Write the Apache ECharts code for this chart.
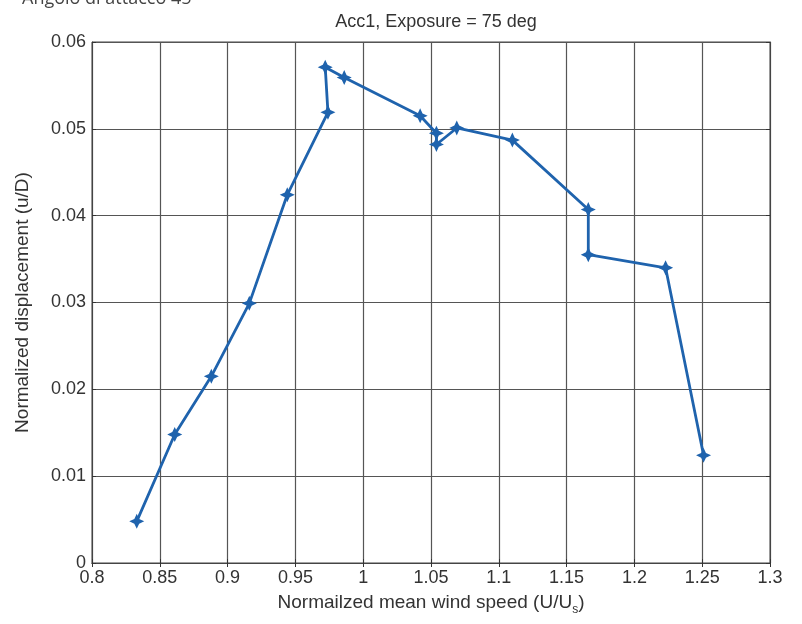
<!DOCTYPE html>
<html><head><meta charset="utf-8">
<script src="https://cdn.jsdelivr.net/npm/echarts@6/dist/echarts.min.js"></script>
<style>html,body{margin:0;padding:0;background:#fff}#c{width:802px;height:624px}</style>
</head><body><div id="c"></div>
<script>
const speed = [0.833, 0.861, 0.888, 0.916, 0.944, 0.974, 0.972, 0.986, 1.042, 1.054, 1.054, 1.069, 1.110, 1.166, 1.166, 1.223, 1.251];
const disp  = [0.0048, 0.0148, 0.0215, 0.0299, 0.0424, 0.0519, 0.0571, 0.0559, 0.0515, 0.0495, 0.0482, 0.0501, 0.0487, 0.0407, 0.0355, 0.0340, 0.0124];
const xTicks = [0.8, 0.85, 0.9, 0.95, 1, 1.05, 1.1, 1.15, 1.2, 1.25, 1.3];
const yTicks = [0, 0.01, 0.02, 0.03, 0.04, 0.05, 0.06];
const titleText = 'Acc1, Exposure = 75 deg';
const topNote = 'Angolo di attacco 45';
const xName = 'Normailzed mean wind speed (U/U{s|s})';
const yName = 'Normalized displacement (u/D)';

const chart = echarts.init(document.getElementById('c'), null, {renderer: 'canvas'});
const font = 'Liberation Sans, Arial, sans-serif';
const star = 'path://M0,-10 L3.2,-3.2 L10,0 L3.2,3.2 L0,10 L-3.2,3.2 L-10,0 L-3.2,-3.2 Z';
const fmt = v => { const r = Math.round(v*100)/100; return String(r); };
chart.setOption({
  animation: false,
  backgroundColor: '#fff',
  title: [{
    text: titleText, left: 431, top: 8, textAlign: 'center',
    textStyle: {fontFamily: font, fontSize: 18, fontWeight: 'normal', color: '#333'}
  }],
  graphic: [{
    type: 'text', left: 22, top: -10,
    style: {text: topNote, font: '18px "Open Sans", sans-serif', fill: '#444'}
  }],
  grid: {left: 92, right: 32, top: 42, bottom: 61, show: true, borderColor: '#444', borderWidth: 1, outerBoundsMode: 'none', containLabel: false},
  xAxis: [{
    type: 'value', min: 0.8, max: 1.3, interval: 0.05,
    name: xName, nameLocation: 'middle', nameGap: 27,
    nameTextStyle: {fontFamily: font, fontSize: 19, color: '#333', rich: {s: {fontSize: 12, verticalAlign: 'bottom', padding: [14,0,0,0], fontFamily: font, color: '#333'}}},
    axisLine: {show: true, lineStyle: {color: '#444'}},
    axisTick: {show: true, inside: true, length: 4, lineStyle: {color: '#333'}},
    axisLabel: {fontFamily: font, fontSize: 18, color: '#333', margin: 6, formatter: v => fmt(v)},
    splitLine: {show: true, lineStyle: {color: '#555', width: 1.2}}
  }, {
    type: 'value', position: 'top', min: 0.8, max: 1.3, interval: 0.05,
    axisLine: {show: true, lineStyle: {color: '#444'}},
    axisTick: {show: true, inside: true, length: 4, lineStyle: {color: '#333'}},
    axisLabel: {show: false}, splitLine: {show: false}
  }],
  yAxis: [{
    type: 'value', min: 0, max: 0.06, interval: 0.01,
    name: yName, nameLocation: 'middle', nameGap: 60, nameRotate: 90,
    nameTextStyle: {fontFamily: font, fontSize: 19, color: '#333'},
    axisLine: {show: true, lineStyle: {color: '#444'}},
    axisTick: {show: true, inside: true, length: 4, lineStyle: {color: '#333'}},
    axisLabel: {fontFamily: font, fontSize: 18, color: '#333', margin: 6, formatter: v => fmt(v)},
    splitLine: {show: true, lineStyle: {color: '#555', width: 1.2}}
  }, {
    type: 'value', position: 'right', min: 0, max: 0.06, interval: 0.01,
    axisLine: {show: true, lineStyle: {color: '#444'}},
    axisTick: {show: true, inside: true, length: 4, lineStyle: {color: '#333'}},
    axisLabel: {show: false}, splitLine: {show: false}
  }],
  series: [{
    type: 'line',
    data: speed.map((s, i) => [s, disp[i]]),
    lineStyle: {color: '#1f63ad', width: 2.8},
    itemStyle: {color: '#1f63ad'},
    symbol: star, symbolSize: 15,
    z: 5
  }]
});
</script></body></html>
